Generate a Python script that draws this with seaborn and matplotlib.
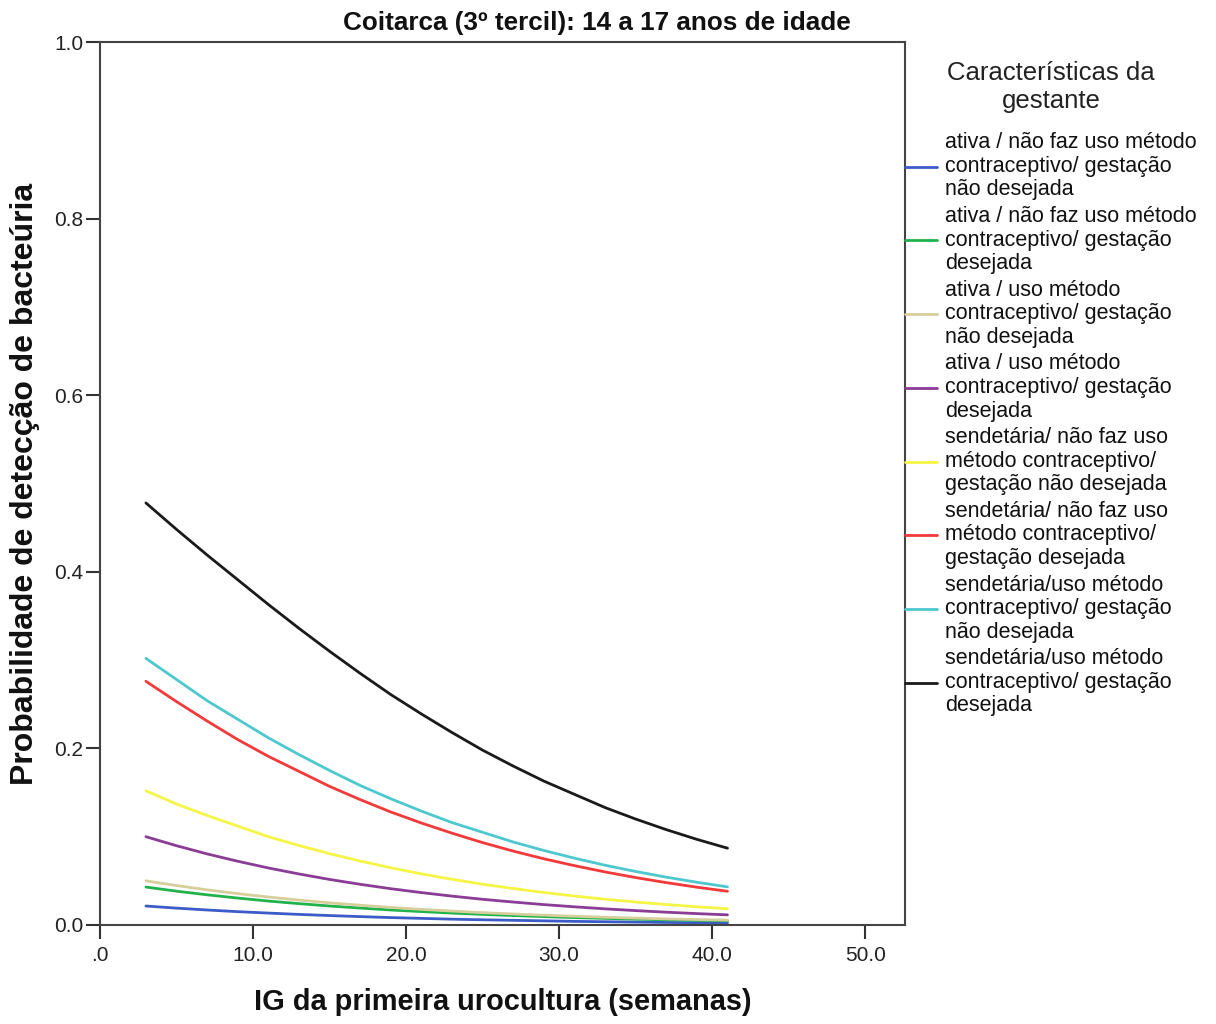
import matplotlib
matplotlib.use("Agg")
import matplotlib.pyplot as plt
import seaborn as sns
import pandas as pd
from matplotlib.lines import Line2D

weeks = [3, 5, 7, 9, 11, 13, 15, 17, 19, 21, 23, 25, 27, 29, 31, 33, 35, 37, 39, 41]

series_names = [
    "ativa / não faz uso método\ncontraceptivo/ gestação\nnão desejada",
    "ativa / não faz uso método\ncontraceptivo/ gestação\ndesejada",
    "ativa / uso método\ncontraceptivo/ gestação\nnão desejada",
    "ativa / uso método\ncontraceptivo/ gestação\ndesejada",
    "sendetária/ não faz uso\nmétodo contraceptivo/\ngestação não desejada",
    "sendetária/ não faz uso\nmétodo contraceptivo/\ngestação desejada",
    "sendetária/uso método\ncontraceptivo/ gestação\nnão desejada",
    "sendetária/uso método\ncontraceptivo/ gestação\ndesejada",
]

ativa_naofaz_nao_desejada = [0.0215, 0.0191, 0.0170, 0.0151, 0.0135, 0.0120, 0.0107, 0.0095, 0.0084, 0.0075,
                             0.0066, 0.0059, 0.0053, 0.0047, 0.0041, 0.0037, 0.0033, 0.0029, 0.0026, 0.0023]
ativa_naofaz_desejada = [0.0430, 0.0383, 0.0342, 0.0305, 0.0271, 0.0242, 0.0215, 0.0192, 0.0170, 0.0152,
                         0.0135, 0.0120, 0.0107, 0.0095, 0.0084, 0.0075, 0.0066, 0.0059, 0.0053, 0.0047]
ativa_uso_nao_desejada = [0.0500, 0.0447, 0.0398, 0.0355, 0.0317, 0.0282, 0.0251, 0.0224, 0.0199, 0.0177,
                          0.0158, 0.0140, 0.0125, 0.0111, 0.0099, 0.0088, 0.0078, 0.0069, 0.0062, 0.0055]
ativa_uso_desejada = [0.100, 0.0898, 0.0805, 0.0722, 0.0646, 0.0578, 0.0516, 0.0461, 0.0411, 0.0367,
                      0.0327, 0.0291, 0.0260, 0.0231, 0.0206, 0.0183, 0.0163, 0.0145, 0.0129, 0.0115]
sed_naofaz_nao_desejada = [0.152, 0.137, 0.124, 0.112, 0.100, 0.090, 0.0808, 0.0724, 0.0648, 0.0579,
                           0.0518, 0.0462, 0.0413, 0.0368, 0.0328, 0.0292, 0.0260, 0.0232, 0.0206, 0.0184]
sed_naofaz_desejada = [0.276, 0.253, 0.231, 0.210, 0.191, 0.174, 0.157, 0.142, 0.128, 0.1155,
                       0.104, 0.0933, 0.0837, 0.0750, 0.0672, 0.0601, 0.0537, 0.0480, 0.0428, 0.0382]
sed_uso_nao_desejada = [0.302, 0.278, 0.254, 0.233, 0.212, 0.193, 0.175, 0.158, 0.143, 0.129,
                        0.116, 0.105, 0.094, 0.0844, 0.0757, 0.0677, 0.0606, 0.0542, 0.0484, 0.0432]
sed_uso_desejada = [0.478, 0.448, 0.419, 0.391, 0.363, 0.336, 0.310, 0.285, 0.261, 0.239,
                    0.218, 0.198, 0.180, 0.163, 0.148, 0.133, 0.120, 0.108, 0.097, 0.087]

all_series = [ativa_naofaz_nao_desejada, ativa_naofaz_desejada, ativa_uso_nao_desejada,
              ativa_uso_desejada, sed_naofaz_nao_desejada, sed_naofaz_desejada,
              sed_uso_nao_desejada, sed_uso_desejada]

colors = ["#3B5BC8", "#22B24C", "#D6CF9C", "#8B3C94", "#F5F545", "#F23A3A", "#4CC8CE", "#1A1A1A"]

x_ticks = [0, 10, 20, 30, 40, 50]
x_tick_labels = [".0", "10.0", "20.0", "30.0", "40.0", "50.0"]
y_ticks = [0.0, 0.2, 0.4, 0.6, 0.8, 1.0]
y_tick_labels = ["0.0", "0.2", "0.4", "0.6", "0.8", "1.0"]

rows = []
for name, vals in zip(series_names, all_series):
    for w, v in zip(weeks, vals):
        rows.append({"IG": w, "Prob": v, "Grupo": name})
df = pd.DataFrame(rows)

sns.set_theme(style="white")
plt.rcParams['font.family'] = ['Liberation Sans', 'DejaVu Sans']

fig = plt.figure(figsize=(12.16, 10.24), dpi=100)
ax = fig.add_axes([100/1216, 99/1024, 805/1216, 883/1024])

sns.lineplot(data=df, x="IG", y="Prob", hue="Grupo", hue_order=series_names,
             palette=dict(zip(series_names, colors)), ax=ax, legend=False,
             linewidth=2.0)

ax.set_xlim(0, 52.6)
ax.set_ylim(0, 1.0)
ax.set_xticks(x_ticks)
ax.set_xticklabels(x_tick_labels)
ax.set_yticks(y_ticks)
ax.set_yticklabels(y_tick_labels)
ax.tick_params(axis='both', which='major', bottom=True, left=True, direction='out',
               length=10, width=1.5, color='#333333',
               labelsize=15, labelcolor='#222222', pad=2)
ax.tick_params(axis='x', pad=5)

for s in ax.spines.values():
    s.set_color('#444444')
    s.set_linewidth(1.5)

ax.set_xlabel("IG da primeira urocultura (semanas)", fontsize=20.9, fontweight='bold',
              color='#111111', labelpad=17)
ax.set_ylabel("Probabilidade de detecção de bacteúria", fontsize=23, fontweight='bold',
              color='#111111', labelpad=10)

fig.text(597/1216, 1 - 23/1024, "Coitarca (3º tercil): 14 a 17 anos de idade",
         ha='center', va='center', fontsize=18.8, fontweight='bold', color='#111111')

handles = [Line2D([0], [0], color=c, lw=2) for c in colors]
leg = ax.legend(handles, series_names, loc='upper left', bbox_to_anchor=(1.0, 1 - 19/883),
                frameon=False, borderaxespad=0, borderpad=0, fontsize=15.5,
                handlelength=1.5, handletextpad=0.38, labelspacing=0.26,
                title="Características da\ngestante", title_fontsize=18.5)
leg.get_title().set_multialignment('center')
leg.get_title().set_color('#222222')
leg.get_title().set_linespacing(1.2)
leg._legend_box.sep = 14
for t in leg.get_texts():
    t.set_color('#111111')
    t.set_linespacing(1.16)

fig.savefig("out.png", dpi=100, facecolor='white')
